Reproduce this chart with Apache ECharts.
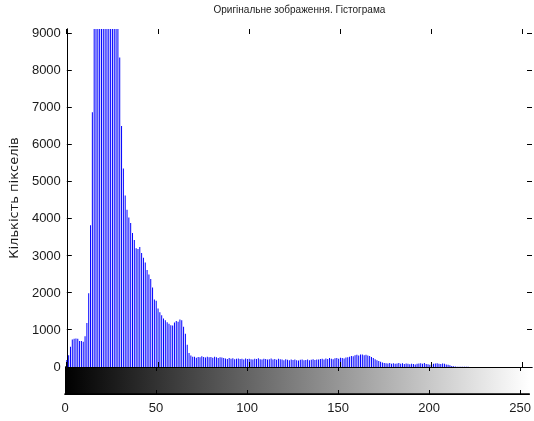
<!DOCTYPE html>
<html>
<head>
<meta charset="utf-8">
<script src="https://cdn.jsdelivr.net/npm/echarts@6/dist/echarts.min.js"></script>
<style>
  html, body { margin: 0; padding: 0; background: #fff; }
  #chart { width: 534px; height: 421px; }
</style>
</head>
<body>
<div id="chart"></div>
<script>
// Histogram of an 8-bit grayscale image: pixel count for each intensity 0..255
const chartTitle = 'Оригінальне зображення. Гістограма';
const yAxisTitle = 'Кількість пікселів';

const xTickValues = [0, 50, 100, 150, 200, 250];
const yTickValues = [0, 1000, 2000, 3000, 4000, 5000, 6000, 7000, 8000, 9000];
const yLimit = 9130;
const levelRange = [0, 255];

const pixelCounts = [
  // 0 - 14
  190, 320, 545, 740, 760, 770, 760, 700, 700, 680, 830, 1190, 1990, 3830, 6880,
  // 15 - 28 (peak, above the visible range)
  9800, 11400, 12900, 14100, 15000, 15600, 15200, 14500, 13800, 13000, 12200, 11300, 10400, 9600,
  // 29 - 69
  8360, 6510, 5360, 4630, 4250, 4040, 3890, 3620, 3430, 3210, 3190, 3240, 3080, 2950, 2820,
  2620, 2500, 2380, 2150, 1820, 1790, 1580, 1480, 1400, 1310, 1260, 1210, 1170, 1130, 1120,
  1200, 1240, 1220, 1280, 1260, 1090, 900, 600, 380, 310, 280,
  // 70 - 86
  280, 250, 270, 260, 290, 270, 255, 280, 265, 270, 250, 275, 260, 240, 265, 255, 245,
  // 87 - 117
  230, 215, 240, 220, 235, 210, 225, 230, 215, 220, 205, 230, 215, 225, 210, 200,
  220, 215, 235, 210, 205, 225, 215, 200, 210, 230, 205, 215, 195, 220, 210,
  // 118 - 139
  200, 185, 210, 195, 180, 205, 190, 200, 185, 175, 195, 205, 180, 190, 200, 185,
  195, 210, 190, 200, 205, 215,
  // 140 - 154
  220, 205, 230, 215, 240, 225, 210, 235, 245, 220, 250, 240, 230, 255, 265,
  // 155 - 166
  280, 300, 290, 320, 330, 310, 335, 340, 320, 330, 310, 295,
  // 167 - 175
  270, 240, 210, 180, 160, 140, 120, 110, 100,
  // 176 - 210
  95, 105, 90, 100, 85, 95, 110, 90, 100, 80, 95, 85, 75, 90, 80, 70, 85, 95,
  100, 90, 105, 80, 75, 60, 70, 85, 95, 100, 90, 80, 95, 85, 70, 60, 50,
  // 211 - 255
  25, 18, 12, 10, 8, 6, 5, 5, 4, 4, 3, 3, 3, 2, 2, 2, 2, 2, 1, 1, 1, 1, 1,
  1, 1, 1, 1, 1, 1, 1, 1, 1, 1, 1, 1, 1, 1, 1, 1, 1, 1, 1, 1, 1, 1
];

const textColor = '#1a1a1a';
const labelFont = 'Liberation Sans, Arial, sans-serif';
const nameFont = 'DejaVu Sans, sans-serif';
const TICK = 5;   // inward tick length, px
const CB_TICK = 4;

const stemData = pixelCounts.map((v, i) => [i, v]);

const chart = echarts.init(document.getElementById('chart'), null, { renderer: 'canvas' });

const tickFmt = (ticks) => (v) => (ticks.indexOf(v) >= 0 ? String(v) : '');
const crisp = (c) => Math.round(c - 0.5) + 0.5;
const tickLine = (x1, y1, x2, y2) => ({
  type: 'line',
  shape: { x1: x1, y1: y1, x2: x2, y2: y2 },
  style: { stroke: '#000', lineWidth: 1 }
});

const hiddenAxisParts = {
  axisTick: { show: false }, axisLabel: { show: false }, splitLine: { show: false }
};

chart.setOption({
  animation: false,
  backgroundColor: '#ffffff',
  textStyle: { fontFamily: labelFont, color: textColor },
  grid: [
    { left: 65, top: 26, width: 467, height: 341 },   // histogram
    { left: 65, top: 367, width: 467, height: 27 }    // gray-level colour bar
  ],
  xAxis: [
    Object.assign({
      type: 'value', gridIndex: 0, position: 'bottom',
      min: levelRange[0], max: levelRange[1], interval: 50,
      axisLine: { show: true, lineStyle: { color: '#10106a', width: 1 } }
    }, hiddenAxisParts),
    Object.assign({
      type: 'value', gridIndex: 0, position: 'top',
      min: levelRange[0], max: levelRange[1], interval: 50,
      name: chartTitle, nameLocation: 'middle', nameGap: 14,
      nameTextStyle: { fontSize: 10, color: textColor, fontFamily: labelFont },
      axisLine: { show: true, lineStyle: { color: '#000', width: 1 } }
    }, hiddenAxisParts),
    {
      type: 'value', gridIndex: 1, position: 'bottom',
      min: levelRange[0], max: levelRange[1], interval: 50,
      axisLine: { show: true, lineStyle: { color: '#000', width: 1.5 } },
      axisTick: { show: false },
      axisLabel: {
        show: true, margin: 8, fontSize: 13, color: textColor, fontFamily: labelFont,
        formatter: tickFmt(xTickValues)
      },
      splitLine: { show: false }
    },
    Object.assign({
      type: 'value', gridIndex: 1, position: 'top',
      min: levelRange[0], max: levelRange[1], interval: 50,
      axisLine: { show: true, lineStyle: { color: '#000', width: 1 } }
    }, hiddenAxisParts)
  ],
  yAxis: [
    {
      type: 'value', gridIndex: 0, position: 'left',
      min: 0, max: yLimit, interval: 1000,
      name: yAxisTitle, nameLocation: 'middle', nameGap: 40, nameRotate: 90,
      nameTextStyle: { fontSize: 13, color: textColor, fontFamily: nameFont },
      axisLine: { show: true, lineStyle: { color: '#000', width: 1 } },
      axisTick: { show: false },
      axisLabel: {
        show: true, margin: 6, fontSize: 13, color: textColor, fontFamily: labelFont,
        formatter: tickFmt(yTickValues)
      },
      splitLine: { show: false }
    },
    Object.assign({
      type: 'value', gridIndex: 0, position: 'right',
      min: 0, max: yLimit, interval: 1000,
      axisLine: { show: true, lineStyle: { color: '#000', width: 1 } }
    }, hiddenAxisParts),
    Object.assign({
      type: 'value', gridIndex: 1, position: 'left', min: 0, max: 1,
      axisLine: { show: true, lineStyle: { color: '#000', width: 1 } }
    }, hiddenAxisParts),
    Object.assign({
      type: 'value', gridIndex: 1, position: 'right', min: 0, max: 1,
      axisLine: { show: true, lineStyle: { color: '#000', width: 1 } }
    }, hiddenAxisParts)
  ],
  series: [
    {
      // one thin stem per intensity level
      type: 'bar', xAxisIndex: 0, yAxisIndex: 0,
      data: stemData, barWidth: 1, clip: true,
      itemStyle: { color: '#0000ff' }, z: 1,
      emphasis: { disabled: true }
    },
    {
      // inward y ticks on both sides of the histogram box
      type: 'custom', xAxisIndex: 0, yAxisIndex: 0, clip: false, silent: true, z: 5,
      data: yTickValues.map((v) => [levelRange[0], v]),
      renderItem: function (params, api) {
        const l = api.coord([levelRange[0], api.value(1)]);
        const r = api.coord([levelRange[1], api.value(1)]);
        const y = crisp(l[1]);
        return {
          type: 'group',
          children: [tickLine(l[0], y, l[0] + TICK, y), tickLine(r[0], y, r[0] - TICK, y)]
        };
      }
    },
    {
      // inward x ticks at the top and bottom of the histogram box
      type: 'custom', xAxisIndex: 0, yAxisIndex: 0, clip: false, silent: true, z: 5,
      data: xTickValues.map((v) => [v, 0]),
      renderItem: function (params, api) {
        const b = api.coord([api.value(0), 0]);
        const t = api.coord([api.value(0), yLimit]);
        const x = crisp(b[0]);
        return {
          type: 'group',
          children: [tickLine(x, b[1], x, b[1] - TICK), tickLine(x, t[1], x, t[1] + TICK)]
        };
      }
    },
    {
      // black-to-white gradient spanning the intensity range
      type: 'custom', xAxisIndex: 2, yAxisIndex: 2,
      data: [[levelRange[0], levelRange[1]]],
      z: 0, silent: true,
      renderItem: function (params, api) {
        const p0 = api.coord([api.value(0), 1]);
        const p1 = api.coord([api.value(1), 0]);
        return {
          type: 'rect',
          shape: { x: p0[0], y: p0[1], width: p1[0] - p0[0], height: p1[1] - p0[1] },
          style: {
            fill: new echarts.graphic.LinearGradient(0, 0, 1, 0, [
              { offset: 0, color: '#000000' },
              { offset: 1, color: '#ffffff' }
            ])
          }
        };
      }
    },
    {
      // inward ticks on the colour bar edges
      type: 'custom', xAxisIndex: 2, yAxisIndex: 2, clip: false, silent: true, z: 5,
      data: xTickValues.map((v) => [v, 0]),
      renderItem: function (params, api) {
        const b = api.coord([api.value(0), 0]);
        const t = api.coord([api.value(0), 1]);
        const x = crisp(b[0]);
        return {
          type: 'group',
          children: [tickLine(x, b[1], x, b[1] - CB_TICK), tickLine(x, t[1], x, t[1] + CB_TICK)]
        };
      }
    }
  ]
});
</script>
</body>
</html>
